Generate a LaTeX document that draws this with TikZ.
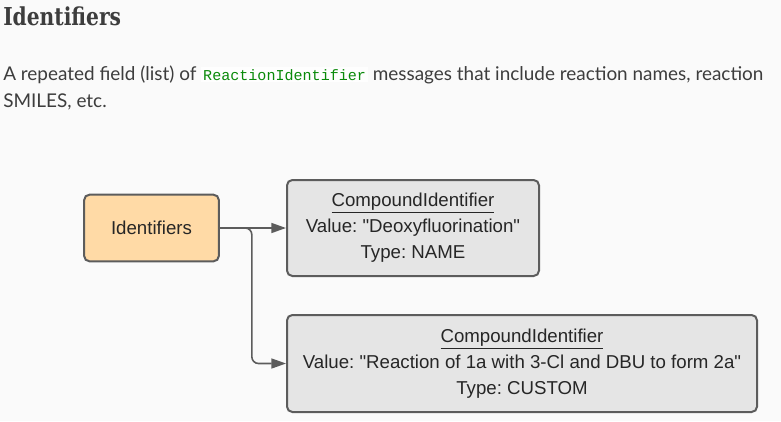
\documentclass[tikz,border=0pt]{standalone}
\usepackage{fontspec}
\setmainfont{Lato}
\setmonofont{Liberation Mono}
\newfontfamily\slabfont[FakeStretch=0.82]{DejaVu Serif}
\newfontfamily\diagfont{Liberation Sans}
\usetikzlibrary{arrows.meta,positioning}

\definecolor{pagebg}{HTML}{FAFAFA}
\definecolor{bodytext}{HTML}{3D3D3D}
\definecolor{codegreen}{HTML}{0A8A0A}
\definecolor{codebg}{HTML}{FEFEFE}
\definecolor{boxline}{HTML}{5C5C5C}
\definecolor{orangefill}{HTML}{FFDAA6}
\definecolor{greyfill}{HTML}{E5E5E5}

\newcommand{\codeword}[1]{{\setlength{\fboxsep}{1.5pt}\colorbox{codebg}{\ttfamily\color{codegreen}\fontsize{11.3}{13}\selectfont #1}}}

\tikzset{
    diagbox/.style={draw=boxline, line width=1.5pt, rounded corners=4pt,
        font=\diagfont\frenchspacing\fontsize{14}{19.5}\selectfont, text=black!85, align=center},
    conn/.style={draw=boxline, line width=1.2pt, -{Triangle[length=11pt,width=7.5pt]}}
}

\begin{document}
\begin{tikzpicture}[x=0.75pt, y=-0.75pt]
    \fill[pagebg] (0, 0) rectangle (781, 421);
    \useasboundingbox (0, 0) rectangle (781, 421);

    % heading and text
    \node[anchor=base west, inner sep=0pt, text=bodytext,
        font=\slabfont\bfseries\fontsize{18.5}{22}\selectfont] (title) at (3, 25) {Identifiers};
    \node[anchor=base west, inner sep=0pt, text=bodytext,
        font=\fontsize{14.2}{21}\selectfont] (line1) at (3, 80)
        {A repeated field (list) of \codeword{ReactionIdentifier} messages that include reaction names, reaction};
    \node[anchor=base west, inner sep=0pt, text=bodytext,
        font=\fontsize{14.2}{21}\selectfont] (line2) at (3, 107) {SMILES, etc.};

    % boxes
    \node[diagbox, fill=orangefill, minimum width=101pt, minimum height=50pt] (ident) at (151.5, 228) {Identifiers};
    \node[diagbox, fill=greyfill, minimum width=189pt, minimum height=72pt] (name) at (413, 228)
        {\underline{CompoundIdentifier}\\ Value: "Deoxyfluorination"\\ Type: NAME};
    \node[diagbox, fill=greyfill, minimum width=352.5pt, minimum height=72.75pt] (custom) at (522, 363.5)
        {\underline{CompoundIdentifier}\\ Value: "Reaction of 1a with 3-Cl and DBU to form 2a"\\ Type: CUSTOM};

    % connectors
    \draw[conn] (ident.east) -- (name.west);
    \draw[conn, rounded corners=5pt] (ident.east) -- ++(32, 0) |- (custom.west);
\end{tikzpicture}
\end{document}
